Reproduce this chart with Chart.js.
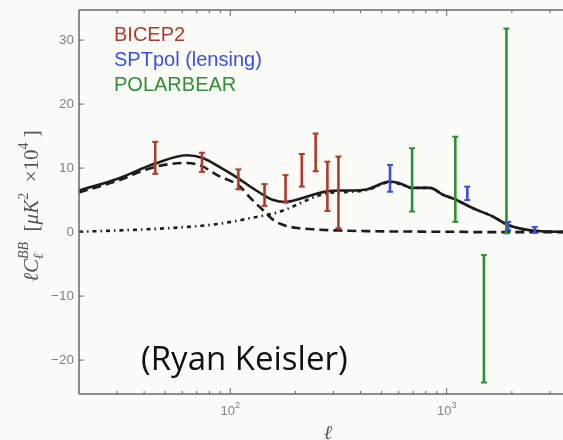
<!DOCTYPE html>
<html>
<head>
<meta charset="UTF-8">
<title>BB power spectrum</title>
<script src="https://cdn.jsdelivr.net/npm/chart.js"></script>
<style>
  body { margin: 0; background: #fbfbf8; overflow: hidden; }
  #wrap { width: 600px; height: 440px; }
</style>
</head>
<body>
<div id="wrap"><canvas id="grafico" width="600" height="440"></canvas></div>
<script>
// theory curves (ell, ell*C_ell^BB in uK^2 x 1e4)
var ell     = [20, 30, 45, 63, 74, 87, 109, 125, 144, 158, 180, 210, 250, 283, 316, 358, 431, 547, 609, 692, 837, 965, 1096, 1328, 1640, 1923, 2551, 4000];
var total   = [6.5, 8.3, 10.7, 12.0, 11.6, 10.4, 8.4, 7.0, 5.7, 5.0, 4.7, 5.2, 6.0, 6.4, 6.5, 6.5, 6.7, 7.9, 7.6, 6.9, 6.9, 5.8, 5.1, 3.7, 2.4, 1.1, 0.2, 0.0];
var tensor  = [6.2, 8.0, 10.2, 10.8, 10.3, 8.9, 7.3, 5.2, 3.2, 1.9, 1.0, 0.6, 0.4, 0.3, 0.25, 0.2, 0.15, 0.1, 0.1, 0.1, 0.05, 0.05, 0.05, 0.0, 0.0, 0.0, 0.0, 0.0];
var lensing = [0.05, 0.25, 0.5, 0.8, 1.0, 1.25, 1.8, 2.2, 2.6, 2.9, 3.5, 4.5, 5.6, 6.1, 6.2, 6.3, 6.6, 7.8, 7.5, 6.9, 6.9, 5.8, 5.1, 3.7, 2.4, 1.1, 0.2, 0.0];

// band powers: bin centre, lower and upper end of the error bar
var bicepL  = [45, 74, 109, 144, 180, 214, 248, 281, 316];
var bicepLo = [9.1, 9.4, 6.7, 4.1, 4.6, 7.1, 9.5, 3.3, 0.6];
var bicepHi = [14.1, 12.4, 9.8, 7.5, 8.9, 12.2, 15.4, 11.0, 11.8];

var sptL  = [547, 1245, 1923, 2551];
var sptLo = [6.3, 5.0, 0.3, -0.1];
var sptHi = [10.5, 7.1, 1.6, 0.8];

var polarL  = [692, 1096, 1486, 1888];
var polarLo = [3.2, 1.6, -23.5, -0.2];
var polarHi = [13.1, 14.9, -3.6, 31.8];

var nomes = ['BICEP2', 'SPTpol (lensing)', 'POLARBEAR'];
var cores = ['#b03a2e', '#3a4ee0', '#2e8f36'];

// axis ticks
var yTicks = [-20, -10, 0, 10, 20, 30];
var xMajor = [100, 1000];
var xExpoente = ['2', '3'];
var xMinor = [30, 40, 50, 60, 70, 80, 90, 200, 300, 400, 500, 600, 700, 800, 900, 2000, 3000];

function pares(xs, ys) {
    return xs.map(function (x, i) { return { x: x, y: ys[i] }; });
}

// each error bar is a little segment, separated from the next by a null point
function barras(L, lo, hi) {
    var pts = [];
    for (var i = 0; i < L.length; i++) {
        pts.push({ x: L[i], y: lo[i] }, { x: L[i], y: hi[i] }, { x: L[i], y: null });
    }
    return pts;
}

function dsBarra(L, lo, hi, cor) {
    return {
        data: barras(L, lo, hi),
        borderColor: cor,
        borderWidth: 2.6,
        pointStyle: 'line',
        pointRadius: 3,
        pointBorderWidth: 2,
        pointBorderColor: cor,
        spanGaps: false,
        order: 0
    };
}

function dsTeoria(ys, dash, ordem) {
    return {
        data: pares(ell, ys),
        borderColor: '#1c1c1c',
        borderWidth: 2.6,
        borderDash: dash,
        pointRadius: 0,
        cubicInterpolationMode: 'monotone',
        order: ordem
    };
}

var moldura = {
    id: 'moldura',
    afterDraw: function (chart) {
        var ctx = chart.ctx;
        var a = chart.chartArea;
        var sx = chart.scales.x, sy = chart.scales.y;
        ctx.save();
        ctx.strokeStyle = '#6a6a6a';
        ctx.lineWidth = 1.5;
        ctx.beginPath();
        ctx.moveTo(a.left, a.top); ctx.lineTo(a.right, a.top);
        ctx.moveTo(a.left, a.top); ctx.lineTo(a.left, a.bottom);
        ctx.moveTo(a.left, a.bottom); ctx.lineTo(a.right, a.bottom);
        ctx.stroke();

        // inward ticks
        ctx.lineWidth = 1;
        ctx.beginPath();
        yTicks.forEach(function (v) {
            var py = sy.getPixelForValue(v);
            ctx.moveTo(a.left, py); ctx.lineTo(a.left + 5, py);
        });
        xMajor.concat(xMinor).forEach(function (v) {
            var px = sx.getPixelForValue(v);
            var len = xMajor.indexOf(v) >= 0 ? 6 : 3;
            ctx.moveTo(px, a.bottom); ctx.lineTo(px, a.bottom - len);
            ctx.moveTo(px, a.top); ctx.lineTo(px, a.top + len);
        });
        ctx.stroke();

        // x tick labels with raised exponent, and the x title
        ctx.fillStyle = '#808080';
        ctx.textBaseline = 'alphabetic';
        xMajor.forEach(function (v, i) {
            var px = sx.getPixelForValue(v);
            ctx.font = '13px "Liberation Sans"';
            var w1 = ctx.measureText('10').width;
            ctx.font = '9px "Liberation Sans"';
            var w2 = ctx.measureText(xExpoente[i]).width;
            var x0 = px - (w1 + w2) / 2;
            ctx.font = '13px "Liberation Sans"';
            ctx.fillText('10', x0, 415);
            ctx.font = '9px "Liberation Sans"';
            ctx.fillText(xExpoente[i], x0 + w1, 408);
        });
        ctx.fillStyle = '#555';
        ctx.font = 'italic 20px "Liberation Serif"';
        ctx.textAlign = 'center';
        ctx.fillText('\u2113', (a.left + a.right) / 2, 439);
        ctx.textAlign = 'left';

        // y axis title
        ctx.translate(38, (a.top + a.bottom) / 2 + 4);
        ctx.rotate(-Math.PI / 2);
        var big = 21, small = 14;
        var it = 'italic ' + big + 'px "Liberation Serif"';
        var rg = big + 'px "Liberation Serif"';
        var itS = 'italic ' + small + 'px "Liberation Serif"';
        var rgS = small + 'px "Liberation Serif"';
        var partes = [
            { t: '\u2113C', f: it, dy: 0 },
            { t: '\u2113', f: itS, dy: 5, junto: true },
            { t: 'BB', f: itS, dy: -10 },
            { t: '  [', f: rg, dy: 0 },
            { t: '\u03bcK', f: it, dy: 0 },
            { t: '2', f: rgS, dy: -10 },
            { t: '  \u00d710', f: rg, dy: 0 },
            { t: '4', f: rgS, dy: -10 },
            { t: ' ]', f: rg, dy: 0 }
        ];
        var soma = 0, larg = [];
        partes.forEach(function (p, i) {
            ctx.font = p.f;
            larg[i] = ctx.measureText(p.t).width;
            if (!p.junto) soma += larg[i];
        });
        var x = -soma / 2;
        partes.forEach(function (p, i) {
            ctx.font = p.f;
            ctx.fillText(p.t, x, p.dy);
            if (!p.junto) x += larg[i];
        });
        ctx.restore();

        // experiment labels
        ctx.save();
        ctx.font = '20px "Liberation Sans"';
        ctx.textBaseline = 'alphabetic';
        nomes.forEach(function (n, i) {
            ctx.fillStyle = cores[i];
            ctx.fillText(n, 114, 41 + i * 25);
        });
        ctx.fillStyle = '#111';
        ctx.font = '33px "Open Sans"';
        ctx.fillText('(Ryan Keisler)', 141, 370);
        ctx.restore();
    }
};

new Chart(document.getElementById('grafico'), {
    type: 'line',
    data: {
        datasets: [
            dsBarra(bicepL, bicepLo, bicepHi, cores[0]),
            dsBarra(sptL, sptLo, sptHi, cores[1]),
            dsBarra(polarL, polarLo, polarHi, cores[2]),
            dsTeoria(total, [], 1),
            dsTeoria(tensor, [9, 5], 2),
            dsTeoria(lensing, [4, 4, 1.5, 4], 3)
        ]
    },
    options: {
        responsive: false,
        devicePixelRatio: 1,
        animation: false,
        events: [],
        layout: { padding: { top: 10, right: 23, left: 0, bottom: 0 } },
        plugins: { legend: { display: false }, tooltip: { enabled: false } },
        scales: {
            x: {
                type: 'logarithmic',
                min: 20,
                max: 4000,
                afterFit: function (s) { s.height = 46; },
                grid: { display: false },
                border: { display: false },
                ticks: { display: false }
            },
            y: {
                min: -25.3,
                max: 34.7,
                afterFit: function (s) { s.width = 79; },
                afterBuildTicks: function (s) {
                    s.ticks = yTicks.map(function (v) { return { value: v }; });
                },
                grid: { display: false },
                border: { display: false },
                ticks: {
                    padding: -3,
                    color: '#808080',
                    font: { family: 'Liberation Sans', size: 13.5 },
                    callback: function (v) { return String(v).replace('-', '\u2212'); }
                }
            }
        }
    },
    plugins: [moldura]
});
</script>
</body>
</html>
